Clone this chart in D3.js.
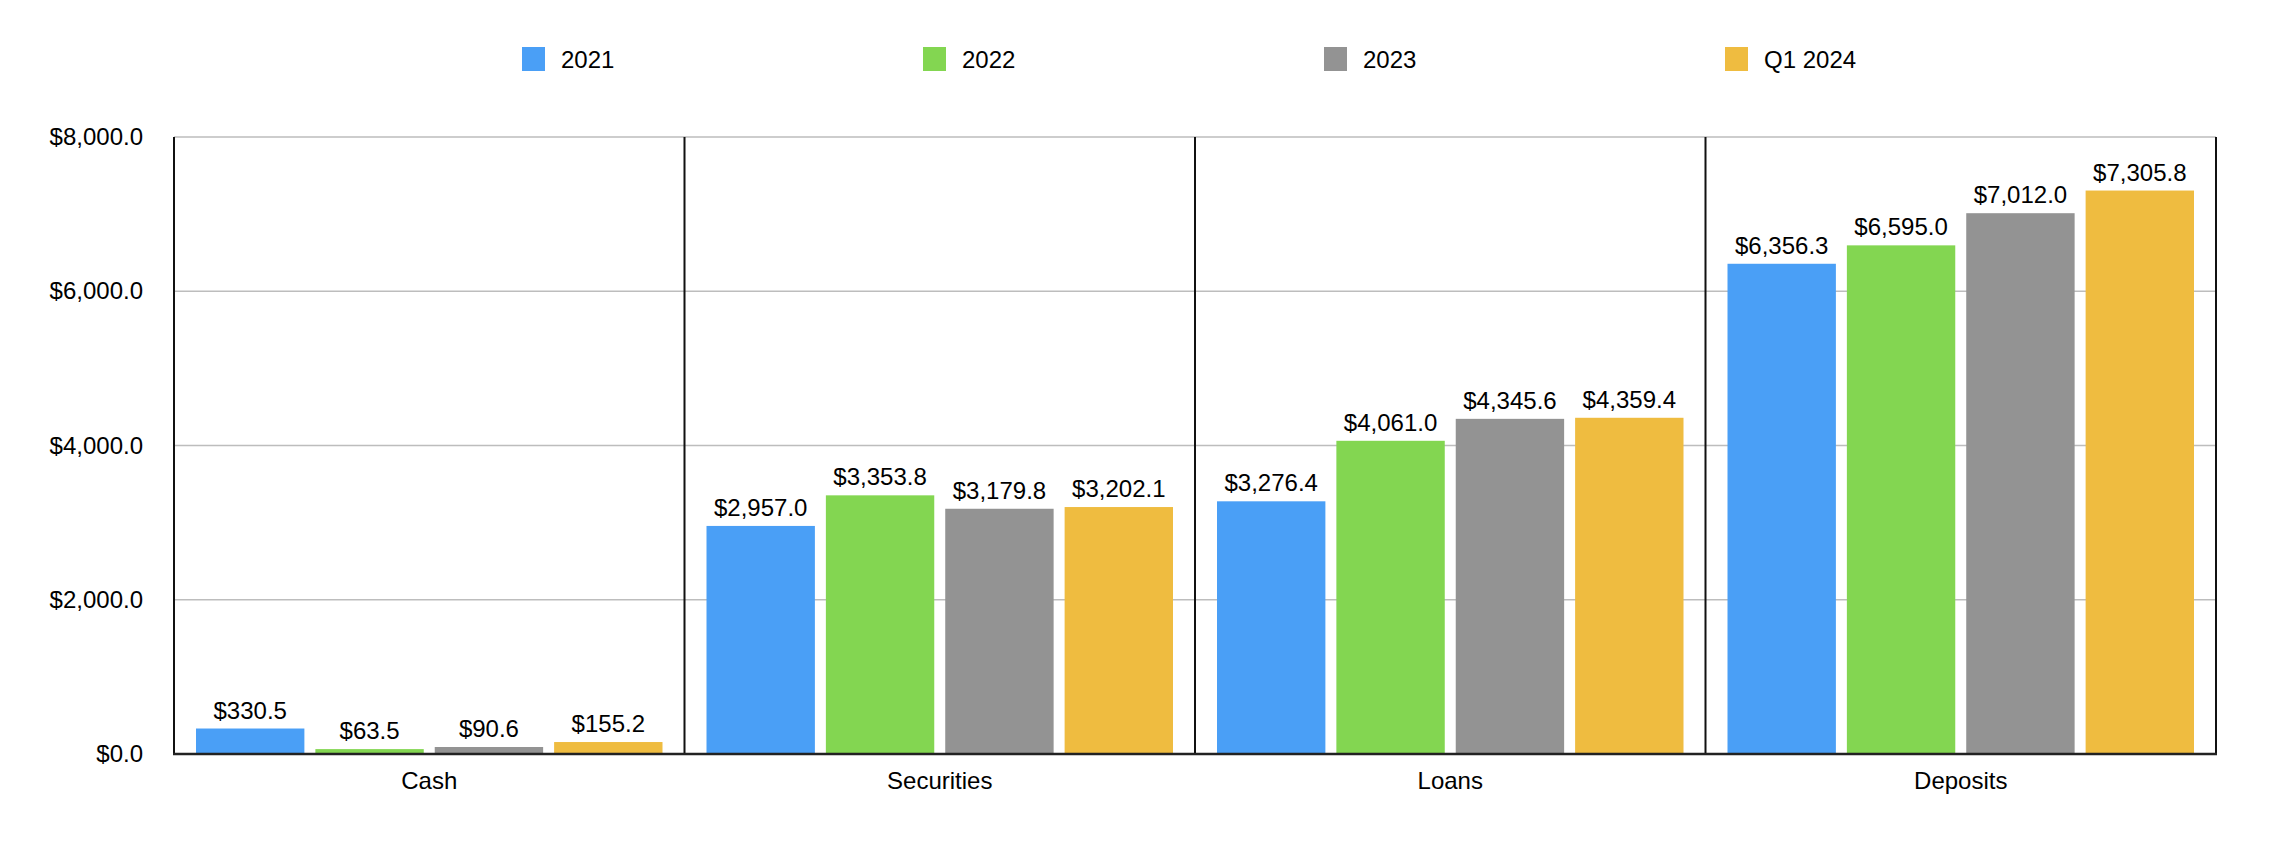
<!DOCTYPE html>
<html>
<head>
<meta charset="utf-8">
<script src="https://cdn.jsdelivr.net/npm/d3@7"></script>
<style>
  body { margin: 0; background: #fff; }
  text { font-family: Helvetica, "Liberation Sans", Arial, sans-serif; fill: #000; }
</style>
</head>
<body>
<div class="grafica"></div>
<script>
////////////////////////////////////////////////////////////// DATOS

var categorias = ["Cash", "Securities", "Loans", "Deposits"];
var series = ["2021", "2022", "2023", "Q1 2024"];
var colores = ["#4a9ff6", "#83d651", "#939393", "#efbc40"];

var v2021 = [330.5, 2957.0, 3276.4, 6356.3];
var v2022 = [63.5, 3353.8, 4061.0, 6595.0];
var v2023 = [90.6, 3179.8, 4345.6, 7012.0];
var vQ12024 = [155.2, 3202.1, 4359.4, 7305.8];

var valores = [v2021, v2022, v2023, vQ12024];
var ticksY = [0, 2000, 4000, 6000, 8000];

////////////////////////////////////////////////////////////// MEDIDAS

var W = 2270, H = 846;
var margin = { top: 137, right: 54, bottom: 92, left: 174 };

var svg = d3.select(".grafica").append("svg")
  .attr("width", W)
  .attr("height", H);

var x0 = d3.scaleBand()
  .domain(categorias)
  .range([margin.left, W - margin.right])
  .padding(0);

var x1 = d3.scaleBand()
  .domain(series)
  .range([22, x0.bandwidth() - 22])
  .paddingInner(0.092)
  .paddingOuter(0);

var y = d3.scaleLinear()
  .domain([0, 8000])
  .range([H - margin.bottom, margin.top]);

var fmt = d3.format(",.1f");

////////////////////////////////////////////////////////////// LEYENDA

var ley = svg.append("g").attr("class", "leyenda");
series.forEach(function (s, i) {
  var lx = 522 + i * 401;
  ley.append("rect")
    .attr("x", lx)
    .attr("y", 47)
    .attr("width", 23)
    .attr("height", 24)
    .attr("fill", colores[i]);
  ley.append("text")
    .attr("x", lx + 39)
    .attr("y", 68)
    .style("font-size", "24px")
    .text(s);
});

////////////////////////////////////////////////////////////// REJILLA Y EJES

svg.append("g")
  .selectAll("line")
  .data(ticksY.filter(function (t) { return t > 0; }))
  .enter().append("line")
  .attr("x1", margin.left)
  .attr("x2", W - margin.right)
  .attr("y1", function (d) { return y(d); })
  .attr("y2", function (d) { return y(d); })
  .attr("stroke", "#bdbdbd")
  .attr("stroke-width", 1.5);

var ejeY = d3.axisLeft(y)
  .tickValues(ticksY)
  .tickSize(0)
  .tickPadding(31)
  .tickFormat(function (d) { return "$" + fmt(d); });

var gy = svg.append("g")
  .attr("transform", "translate(" + margin.left + ",0)")
  .call(ejeY);
gy.select(".domain").remove();
gy.selectAll("text")
  .style("font-size", "24px")
  .style("font-family", "Helvetica, 'Liberation Sans', Arial, sans-serif")
  .attr("fill", "#000");

// separadores verticales
var bordes = categorias.map(function (c) { return x0(c); });
bordes.push(W - margin.right);
svg.append("g")
  .selectAll("line")
  .data(bordes)
  .enter().append("line")
  .attr("x1", function (d) { return d; })
  .attr("x2", function (d) { return d; })
  .attr("y1", y(8000))
  .attr("y2", y(0))
  .attr("stroke", "#111")
  .attr("stroke-width", 2);

////////////////////////////////////////////////////////////// BARRAS

var grupos = svg.append("g")
  .selectAll("g")
  .data(categorias)
  .enter().append("g")
  .attr("transform", function (c) { return "translate(" + x0(c) + ",0)"; });

grupos.selectAll("rect")
  .data(function (c, ci) {
    return series.map(function (s, si) { return { s: s, i: si, v: valores[si][ci] }; });
  })
  .enter().append("rect")
  .attr("x", function (d) { return x1(d.s); })
  .attr("y", function (d) { return y(d.v); })
  .attr("width", x1.bandwidth())
  .attr("height", function (d) { return y(0) - y(d.v); })
  .attr("fill", function (d) { return colores[d.i]; });

grupos.selectAll("text")
  .data(function (c, ci) {
    return series.map(function (s, si) { return { s: s, i: si, v: valores[si][ci] }; });
  })
  .enter().append("text")
  .attr("x", function (d) { return x1(d.s) + x1.bandwidth() / 2; })
  .attr("y", function (d) { return y(d.v) - 10; })
  .attr("text-anchor", "middle")
  .style("font-size", "24px")
  .text(function (d) { return "$" + fmt(d.v); });

// linea base
svg.append("line")
  .attr("x1", margin.left - 1)
  .attr("x2", W - margin.right + 1)
  .attr("y1", y(0))
  .attr("y2", y(0))
  .attr("stroke", "#222")
  .attr("stroke-width", 2.5);

////////////////////////////////////////////////////////////// CATEGORIAS

svg.append("g")
  .selectAll("text")
  .data(categorias)
  .enter().append("text")
  .attr("x", function (c) { return x0(c) + x0.bandwidth() / 2; })
  .attr("y", 789)
  .attr("text-anchor", "middle")
  .style("font-size", "24px")
  .text(function (c) { return c; });
</script>
</body>
</html>
